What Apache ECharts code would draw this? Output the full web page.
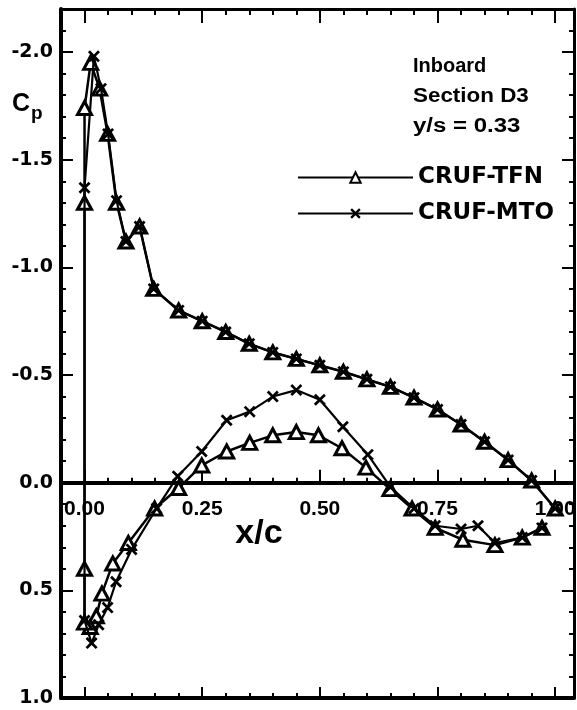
<!DOCTYPE html>
<html>
<head>
<meta charset="utf-8">
<script src="https://cdn.jsdelivr.net/npm/echarts@6/dist/echarts.min.js"></script>
<style>
html,body{margin:0;padding:0;background:#fff;}
#chart{width:577px;height:710px;}
</style>
</head>
<body>
<div id="chart"></div>
<script>
// ---- data (x/c, Cp) : lower surface TE -> LE, then upper surface LE -> TE ----
var tfnX  = [0.972,0.930,0.872,0.804,0.745,0.696,0.649,0.598,0.547,0.497,0.450,0.400,0.351,0.302,0.249,0.200,0.149,0.093,0.060,0.037,0.025,0.012,0.000,0.000,
             0.000,0.000,0.013,0.032,0.049,0.068,0.088,0.117,0.147,0.200,0.250,0.300,0.350,0.400,0.450,0.500,0.550,0.600,0.650,0.700,0.750,0.800,0.850,0.900,0.950,1.000];
var tfnCp = [0.21,0.255,0.29,0.265,0.21,0.12,0.03,-0.07,-0.16,-0.22,-0.235,-0.22,-0.185,-0.145,-0.08,0.025,0.12,0.28,0.375,0.515,0.62,0.67,0.65,0.40,
             -1.30,-1.74,-1.95,-1.83,-1.62,-1.30,-1.12,-1.19,-0.90,-0.80,-0.75,-0.70,-0.645,-0.605,-0.575,-0.545,-0.515,-0.48,-0.445,-0.395,-0.34,-0.27,-0.19,-0.105,-0.01,0.12];
var mtoX  = [0.972,0.930,0.872,0.836,0.800,0.745,0.700,0.650,0.602,0.549,0.500,0.450,0.400,0.351,0.302,0.249,0.198,0.153,0.100,0.067,0.049,0.030,0.015,0.000,
             0.000,0.020,0.035,0.050,0.068,0.088,0.117,0.147,0.200,0.250,0.300,0.350,0.400,0.450,0.500,0.550,0.600,0.650,0.700,0.750,0.800,0.850,0.900,0.950,1.000];
var mtoCp = [0.21,0.255,0.28,0.20,0.215,0.20,0.12,0.02,-0.13,-0.26,-0.385,-0.43,-0.40,-0.33,-0.29,-0.145,-0.03,0.12,0.31,0.46,0.58,0.66,0.745,0.64,
             -1.37,-1.98,-1.83,-1.62,-1.31,-1.12,-1.19,-0.90,-0.80,-0.75,-0.70,-0.645,-0.605,-0.575,-0.545,-0.515,-0.48,-0.445,-0.395,-0.34,-0.27,-0.19,-0.105,-0.01,0.12];
var seriesNames = ['CRUF-TFN','CRUF-MTO'];
var xMajor = [0, 0.25, 0.5, 0.75, 1.0];
var xMinor = [-0.05,0.05,0.1,0.15,0.2,0.3,0.35,0.4,0.45,0.55,0.6,0.65,0.7,0.8,0.85,0.9,0.95];
var yMajor = [-2.0,-1.5,-1.0,-0.5,0.0,0.5,1.0];
var yMinor = [-2.2,-2.1,-1.9,-1.8,-1.7,-1.6,-1.4,-1.3,-1.2,-1.1,-0.9,-0.8,-0.7,-0.6,-0.4,-0.3,-0.2,-0.1,0.1,0.2,0.3,0.4,0.6,0.7,0.8,0.9];
var notes = ['Inboard','Section D3','y/s = 0.33'];

function pairs(xs, ys){ return xs.map(function(v,i){ return [v, ys[i]]; }); }

var X_MIN = -0.05, X_MAX = 1.04, Y_MIN = -2.2, Y_MAX = 1.0;
var G_LEFT = 61, G_RIGHT = 3, G_TOP = 9, G_H = 689;
// second grid ends exactly on Cp = 0 so its bottom axis is the zero line
var ZERO_H = G_H * (0 - Y_MIN) / (Y_MAX - Y_MIN);
var crossPath = 'path://M0,1.6L1.6,0L5,3.4L8.4,0L10,1.6L6.6,5L10,8.4L8.4,10L5,6.6L1.6,10L0,8.4L3.4,5Z';

function xAx(opts){
  return Object.assign({
    type:'value', min:X_MIN, max:X_MAX, splitLine:{show:false}, gridIndex:0,
    axisLine:{show:true, onZero:false, lineStyle:{color:'#000', width:3}},
    axisTick:{show:true, inside:true, length:6, lineStyle:{color:'#000', width:2}},
    axisLabel:{show:false}
  }, opts);
}
function yAx(opts){
  return Object.assign({
    type:'value', min:Y_MIN, max:Y_MAX, inverse:true, splitLine:{show:false}, gridIndex:0,
    axisLine:{show:true, onZero:false, lineStyle:{color:'#000', width:3}},
    axisTick:{show:true, inside:true, length:6, lineStyle:{color:'#000', width:2}},
    axisLabel:{show:false}
  }, opts);
}

var option = {
  backgroundColor:'#fff',
  animation:false,
  grid:[
    {left:G_LEFT, right:G_RIGHT, top:G_TOP, height:G_H, containLabel:false, outerBoundsMode:'none'},
    {left:G_LEFT, right:G_RIGHT, top:G_TOP, height:ZERO_H, containLabel:false, outerBoundsMode:'none'}
  ],
  xAxis:[
    xAx({position:'bottom', axisLine:{show:true, onZero:false, lineStyle:{color:'#000', width:4}},
         axisTick:{show:true, inside:true, length:11, customValues:xMajor, lineStyle:{color:'#000', width:2}}}),
    xAx({position:'bottom', axisLine:{show:false, onZero:false},
         axisTick:{show:true, inside:true, length:5, customValues:xMinor, lineStyle:{color:'#000', width:2}}}),
    xAx({position:'top', axisLine:{show:true, onZero:false, lineStyle:{color:'#000', width:3}},
         axisTick:{show:true, inside:true, length:14, customValues:xMajor, lineStyle:{color:'#000', width:2}}}),
    xAx({position:'top', axisLine:{show:false, onZero:false},
         axisTick:{show:true, inside:true, length:6, customValues:xMinor, lineStyle:{color:'#000', width:2}}}),
    // zero line axis (bottom of grid 1) with labels below it
    xAx({gridIndex:1, position:'bottom', axisLine:{show:true, onZero:false, lineStyle:{color:'#000', width:4}},
         axisTick:{show:true, inside:true, length:13, customValues:xMajor, lineStyle:{color:'#000', width:2}},
         axisLabel:{show:true, customValues:xMajor, margin:16, color:'#000', fontFamily:'Liberation Sans', fontWeight:'bold', fontSize:21,
                    formatter:function(v){ return v.toFixed(2); }}}),
    xAx({gridIndex:1, position:'bottom', axisLine:{show:false, onZero:false},
         axisTick:{show:true, inside:true, length:5, customValues:xMinor, lineStyle:{color:'#000', width:2}}})
  ],
  yAxis:[
    yAx({position:'left', axisLine:{show:true, onZero:false, lineStyle:{color:'#000', width:4}},
         axisTick:{show:true, inside:true, length:12, customValues:yMajor, lineStyle:{color:'#000', width:2}},
         axisLabel:{show:true, customValues:yMajor, margin:8, color:'#000', fontFamily:'DejaVu Sans', fontWeight:'bold', fontSize:19,
                    formatter:function(v){ return v.toFixed(1); }}}),
    yAx({position:'left', axisLine:{show:false, onZero:false},
         axisTick:{show:true, inside:true, length:5, customValues:yMinor, lineStyle:{color:'#000', width:2}}}),
    yAx({position:'right', axisLine:{show:true, onZero:false, lineStyle:{color:'#000', width:3}},
         axisTick:{show:true, inside:true, length:12, customValues:yMajor, lineStyle:{color:'#000', width:2}}}),
    yAx({position:'right', axisLine:{show:false, onZero:false},
         axisTick:{show:true, inside:true, length:5, customValues:yMinor, lineStyle:{color:'#000', width:2}}}),
    {type:'value', gridIndex:1, min:Y_MIN, max:0, inverse:true, show:false}
  ],
  legend:{
    orient:'vertical', left:292, top:161, itemWidth:115, itemHeight:13, itemGap:13,
    textStyle:{color:'#000', fontFamily:'DejaVu Sans', fontWeight:'bold', fontSize:23},
    data:seriesNames
  },
  series:[
    {name:seriesNames[0], type:'line', xAxisIndex:0, yAxisIndex:0, data:pairs(tfnX, tfnCp),
     symbol:'triangle', symbolSize:[14,13], showAllSymbol:true,
     lineStyle:{color:'#000', width:2.5}, itemStyle:{color:'#fff', borderColor:'#000', borderWidth:3}, z:3},
    {name:seriesNames[1], type:'line', xAxisIndex:0, yAxisIndex:0, data:pairs(mtoX, mtoCp),
     symbol:crossPath, symbolSize:12, showAllSymbol:true,
     lineStyle:{color:'#000', width:2.2}, itemStyle:{color:'#000', borderColor:'#000', borderWidth:0}, z:4}
  ],
  graphic:[
    {type:'text', x:413, y:66, style:{text:notes[0], fill:'#000', font:'bold 20px "Liberation Sans"', textAlign:'left', textVerticalAlign:'middle'}},
    {type:'text', x:413, y:96, scaleX:1.12, style:{text:notes[1], fill:'#000', font:'bold 20px "Liberation Sans"', textAlign:'left', textVerticalAlign:'middle'}},
    {type:'text', x:413, y:126, scaleX:1.2, style:{text:notes[2], fill:'#000', font:'bold 20px "Liberation Sans"', textAlign:'left', textVerticalAlign:'middle'}},
    {type:'text', x:12, y:104, style:{text:'C', fill:'#000', font:'bold 25px "Liberation Sans"', textAlign:'left', textVerticalAlign:'middle'}},
    {type:'text', x:31, y:114, style:{text:'p', fill:'#000', font:'bold 19px "Liberation Sans"', textAlign:'left', textVerticalAlign:'middle'}},
    {type:'text', x:259, y:534, style:{text:'x/c', fill:'#000', font:'bold 34px "Liberation Sans"', textAlign:'center', textVerticalAlign:'middle'}}
  ]
};

var chart = echarts.init(document.getElementById('chart'), null, {renderer:'canvas'});
chart.setOption(option);
</script>
</body>
</html>
